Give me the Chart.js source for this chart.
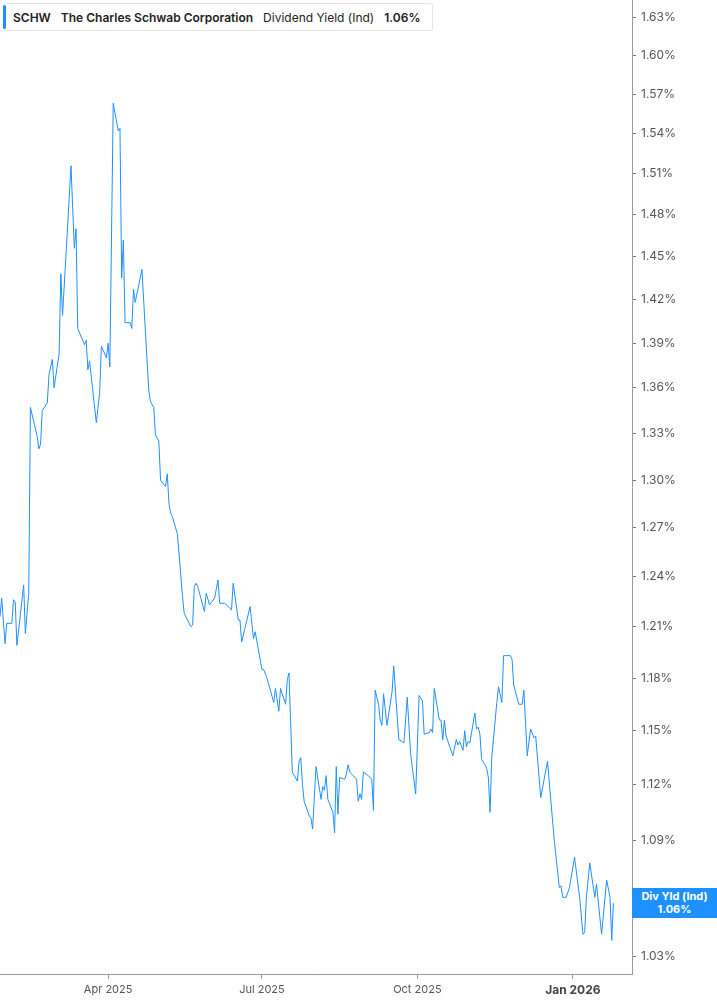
<!DOCTYPE html>
<html>
<head>
<meta charset="utf-8">
<title>SCHW Dividend Yield (Ind)</title>
<script src="https://cdn.jsdelivr.net/npm/chart.js@4.4.1/dist/chart.umd.min.js"></script>
<style>
  body { margin: 0; background: #fff; font-family: Inter, "Noto Sans", sans-serif; }
  #wrap { position: relative; width: 717px; height: 1005px; }
  #legend {
    position: absolute; left: 3px; top: 3px; height: 26px;
    border: 1px solid #e4e4e4; border-radius: 3px; background: #fff;
    display: flex; align-items: center; padding: 0 12px 0 9px;
    font-size: 12px; color: #222; white-space: nowrap;
  }
  #legend .bar { position: absolute; left: -1px; top: 1px; bottom: 1px; width: 3px; background: #1E90FF; border-radius: 2px; }
  #legend span { margin-right: 10px; }
  #legend span:last-child { margin-right: 0; }
  #legend .b { font-weight: 600; }
  #lastTag {
    position: absolute; left: 632px; width: 85px; height: 30px;
    background: #1E90FF; color: #fff; font-weight: 700; font-size: 11px;
    text-align: center; line-height: 13px; padding-top: 2px; box-sizing: border-box;
  }
</style>
</head>
<body>
<div id="wrap">
  <canvas id="yieldChart"></canvas>
  <div id="legend">
    <div class="bar"></div>
    <span class="b">SCHW</span>
    <span class="b">The Charles Schwab Corporation</span>
    <span>Dividend Yield (Ind)</span>
    <span class="b">1.06%</span>
  </div>
  <div id="lastTag">Div Yld (Ind)<br>1.06%</div>
</div>
<script>
// days since 2025-01-01
var days = [
  26, 27, 29, 30, 33, 34, 35, 36, 40, 41, 43, 44, 48, 49, 50, 51, 54, 55, 57, 58,
  61, 62, 63, 65, 68, 70, 71, 72, 76, 77, 78, 79, 81, 83, 85, 86, 89, 90, 91, 93,
  96, 97, 98, 99, 100, 103, 104, 105, 106, 110, 112, 114, 115, 117, 118, 120, 121,
  123, 124, 125,
  126, 127, 128, 131, 134, 135, 139, 140, 141, 142, 143,
  147, 148, 150, 153, 155, 156, 159, 163, 164, 167, 168, 169,
  174, 176, 177, 181, 182, 184, 188, 189, 191, 192, 195, 196, 197,
  199, 202, 203, 204, 205, 206,
  209, 210, 211, 213, 216, 217, 218, 219, 220,
  223, 224, 225, 226, 227, 230, 231, 232, 233, 235,
  237, 238, 239, 240, 241, 244, 246, 247, 248, 250,
  251, 252, 253, 255, 258, 259, 262, 264, 265, 267,
  269, 272, 274, 276, 277, 280, 281, 282, 283, 286,
  287, 288, 289, 290, 294, 296, 297, 298,
  300, 301, 302, 303, 304, 307, 308, 309, 310, 311,
  313, 314, 315, 316, 317, 320, 321, 323, 324, 328,
  329, 330, 333, 335, 336, 338, 340, 342, 343, 346,
  350, 352, 354, 357, 358, 359, 361, 363, 366, 369,
  371, 372, 373, 375, 378, 379, 382, 385, 387, 388, 389
];

// dividend yield, percent
var yieldPct = [
  1.216, 1.227, 1.200, 1.212, 1.212, 1.226, 1.225, 1.199, 1.235, 1.206, 1.230, 1.347, 1.328, 1.320, 1.323, 1.345, 1.350, 1.369, 1.379, 1.360,
  1.383, 1.438, 1.409, 1.450, 1.516, 1.456, 1.470, 1.400, 1.389, 1.392, 1.372, 1.378, 1.357, 1.337, 1.357, 1.388, 1.380, 1.390, 1.374, 1.563,
  1.542, 1.544, 1.435, 1.462, 1.404, 1.404, 1.400, 1.427, 1.418, 1.441, 1.399, 1.359, 1.351, 1.347, 1.329, 1.325, 1.300,
  1.297, 1.296, 1.304,
  1.285, 1.279, 1.277, 1.266, 1.228, 1.218, 1.210, 1.211, 1.234, 1.236, 1.234,
  1.219, 1.230, 1.223, 1.227, 1.238, 1.224, 1.224, 1.220, 1.236, 1.214, 1.214, 1.201,
  1.222, 1.203, 1.207, 1.185, 1.185, 1.180, 1.166, 1.174, 1.161, 1.174, 1.165, 1.179, 1.183,
  1.127, 1.122, 1.133, 1.135, 1.120, 1.111,
  1.103, 1.102, 1.096, 1.130, 1.112, 1.119, 1.117, 1.125, 1.112,
  1.105, 1.094, 1.130, 1.104, 1.124, 1.123, 1.126, 1.131, 1.127, 1.125,
  1.123, 1.111, 1.115, 1.112, 1.127, 1.125, 1.123, 1.106, 1.173, 1.165,
  1.156, 1.153, 1.171, 1.153, 1.172, 1.187, 1.145, 1.144, 1.143, 1.169,
  1.137, 1.115, 1.170, 1.167, 1.148, 1.149, 1.151, 1.149, 1.174, 1.156,
  1.156, 1.145, 1.156, 1.147, 1.136, 1.145, 1.142, 1.144,
  1.139, 1.150, 1.141, 1.144, 1.143, 1.160, 1.151, 1.152, 1.148, 1.134,
  1.131, 1.129, 1.124, 1.105, 1.135, 1.166, 1.175, 1.166, 1.193, 1.193,
  1.191, 1.176, 1.165, 1.165, 1.173, 1.136, 1.151, 1.146, 1.147, 1.113,
  1.133, 1.111, 1.090, 1.065, 1.066, 1.060, 1.060, 1.065, 1.081, 1.060,
  1.041, 1.042, 1.060, 1.078, 1.060, 1.067, 1.041, 1.069, 1.060, 1.038, 1.057
];

var yTicks = [1.03, 1.06, 1.09, 1.12, 1.15, 1.18, 1.21, 1.24, 1.27, 1.30, 1.33,
              1.36, 1.39, 1.42, 1.45, 1.48, 1.51, 1.54, 1.57, 1.60, 1.63];
var xTickDays = [90, 181, 273, 365];
var xTickLabels = ['Apr 2025', 'Jul 2025', 'Oct 2025', 'Jan 2026'];

var BLUE = '#1E90FF';
var AXIS = '#9a9a9a';

var lastTagPlugin = {
    id: 'lastTag',
    afterDraw: function (chart) {
        var y = chart.scales.y.getPixelForValue(yieldPct[yieldPct.length - 1]);
        document.getElementById('lastTag').style.top = (y - 15) + 'px';
    }
};

var ctx = document.getElementById('yieldChart').getContext('2d');
var yieldChart = new Chart(ctx, {
    type: 'line',
    data: {
        datasets: [{
            label: 'Dividend Yield (Ind)',
            data: days.map(function (d, i) { return { x: d, y: yieldPct[i] }; }),
            borderColor: BLUE,
            borderWidth: 1,
            pointRadius: 0,
            tension: 0,
            fill: false
        }]
    },
    options: {
        responsive: true,
        maintainAspectRatio: false,
        animation: false,
        layout: { padding: 0 },
        plugins: {
            legend: { display: false },
            tooltip: { enabled: false }
        },
        scales: {
            x: {
                type: 'linear',
                min: 26,
                max: 400,
                bounds: 'data',
                afterBuildTicks: function (s) {
                    s.ticks = xTickDays.map(function (v) { return { value: v }; });
                },
                afterFit: function (s) {
                    s.height = 31;
                    s.paddingLeft = 0;
                    s.paddingRight = 0;
                },
                border: { display: true, color: AXIS, width: 1 },
                grid: { drawOnChartArea: false, drawTicks: true, tickLength: 5, color: AXIS },
                ticks: {
                    autoSkip: false,
                    maxRotation: 0,
                    padding: 4,
                    color: function (c) { return (c.tick && c.tick.value === 365) ? '#444' : '#555'; },
                    font: function (c) {
                        if (c.tick && c.tick.value === 365) {
                            return { family: 'Inter', size: 12, weight: 'bold' };
                        }
                        return { family: 'Inter', size: 11 };
                    },
                    callback: function (v) {
                        var i = xTickDays.indexOf(v);
                        return i >= 0 ? xTickLabels[i] : '';
                    }
                }
            },
            y: {
                type: 'logarithmic',
                position: 'right',
                min: 1.021,
                max: 1.644,
                bounds: 'data',
                afterBuildTicks: function (s) {
                    s.ticks = yTicks.map(function (v) { return { value: v }; });
                },
                afterFit: function (s) {
                    s.width = 85;
                    s.paddingTop = 0;
                    s.paddingBottom = 0;
                },
                border: { display: true, color: AXIS, width: 1 },
                grid: { drawOnChartArea: false, drawTicks: true, tickLength: 4, color: '#777' },
                ticks: {
                    autoSkip: false,
                    padding: 5,
                    color: '#555',
                    font: { family: 'Inter', size: 12 },
                    callback: function (v) { return Number(v).toFixed(2) + '%'; }
                }
            }
        }
    },
    plugins: [lastTagPlugin]
});
</script>
</body>
</html>
